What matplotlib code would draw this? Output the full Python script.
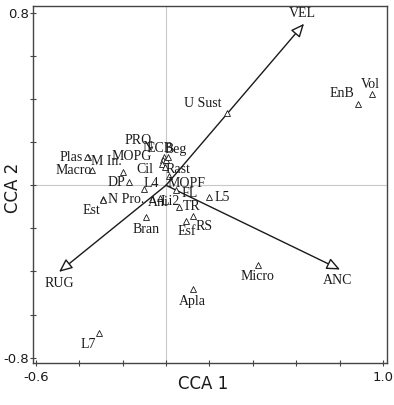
import numpy as np
import matplotlib
matplotlib.use("Agg")
import matplotlib.pyplot as plt


# ==========================================================
# Data (CCA biplot scores)
# ==========================================================

species = ["Vol", "EnB", "U Sust", "PRO", "N", "ECB", "Beg", "MOPG",
           "M In.", "Plas", "Macro", "Cil", "Rast", "MOPF", "DP", "L4",
           "N Pro.", "Est", "Ani", "Li2", "Bran", "FL", "TR", "L5",
           "Esf", "RS", "Micro", "Apla", "L7"]

cca1 = [0.949, 0.883, 0.280, -0.009, -0.014, 0.000, 0.009, -0.018,
        -0.359, -0.364, -0.340, -0.197, -0.005, 0.014, -0.171, -0.101,
        -0.289, -0.291, -0.063, -0.028, -0.094, 0.046, 0.061, 0.198,
        0.092, 0.123, 0.423, 0.123, -0.309]

cca2 = [0.423, 0.376, 0.334, 0.133, 0.119, 0.119, 0.133, 0.100,
        0.133, 0.130, 0.070, 0.062, 0.087, 0.045, 0.014, -0.019,
        -0.065, -0.067, -0.065, -0.061, -0.148, -0.024, -0.099, -0.055,
        -0.165, -0.142, -0.370, -0.483, -0.688]

env_vars = ["VEL", "RUG", "ANC"]
env_cca1 = [0.636, -0.493, 0.802]
env_cca2 = [0.750, -0.402, -0.391]

x_ticks = [-0.6, -0.4, -0.2, 0.0, 0.2, 0.4, 0.6, 0.8, 1.0]
x_ticklabels = ["-0.6", "", "", "", "", "", "", "", "1.0"]
y_ticks = [-0.8, -0.6, -0.4, -0.2, 0.0, 0.2, 0.4, 0.6, 0.8]
y_ticklabels = ["-0.8", "", "", "", "", "", "", "", "0.8"]


# ==========================================================
# Label placement (pixel offsets from the point)
# ==========================================================

LABEL_OFFSET = {
    "Vol": (-2, 10), "EnB": (-16, 11), "U Sust": (-24, 10),
    "PRO": (-26, 16), "N": (-15, 12), "ECB": (-6, 11), "Beg": (8, 7),
    "MOPG": (-30, 7), "M In.": (18, -5), "Plas": (-16, 0),
    "Macro": (-19, 0), "Cil": (22, 2), "Rast": (13, -3),
    "MOPF": (17, -8), "DP": (-13, 0), "L4": (7, 6), "N Pro.": (23, 0),
    "Est": (-11, -11), "Ani": (6, -3), "Li2": (10, -3), "Bran": (0, -12),
    "FL": (14, -3), "TR": (12, 0), "L5": (13, 0), "Esf": (1, -11),
    "RS": (11, -11), "Micro": (0, -12), "Apla": (0, -12), "L7": (-11, -11),
}

ENV_OFFSET = {"VEL": (-2, 10), "RUG": (0, -12), "ANC": (-2, -11)}

SERIF = "Liberation Serif"
SANS = "Liberation Sans Narrow"
INK = "#1a1a1a"


# ==========================================================
# Plot
# ==========================================================

fig = plt.figure(figsize=(3.94, 4.05), dpi=100)
ax = fig.add_axes([0.0838, 0.1037, 0.8982, 0.8813])

ax.set_xlim(-0.613, 1.018)
ax.set_ylim(-0.825, 0.832)

ax.axvline(0, color="#c8c8c8", lw=0.8, zorder=0)
ax.axhline(0, color="#c8c8c8", lw=0.8, zorder=0)

# species
ax.plot(cca1, cca2, linestyle="none", marker="^", markersize=4.2,
        markerfacecolor="white", markeredgecolor=INK, markeredgewidth=0.6,
        zorder=3)

for name, x, y in zip(species, cca1, cca2):
    dx, dy = LABEL_OFFSET[name]
    ax.annotate(name, (x, y), xytext=(dx, dy), textcoords="offset pixels",
                ha="center", va="center", fontsize=10, family=SERIF,
                color=INK, zorder=4)

# environmental arrows
for name, x, y in zip(env_vars, env_cca1, env_cca2):
    ax.annotate("", xy=(x, y), xytext=(0, 0),
                arrowprops=dict(arrowstyle="-|>,head_length=0.8,head_width=0.35",
                                fc="white", ec=INK, lw=1.0,
                                shrinkA=0, shrinkB=0),
                zorder=2)
    dx, dy = ENV_OFFSET[name]
    ax.annotate(name, (x, y), xytext=(dx, dy), textcoords="offset pixels",
                ha="center", va="center", fontsize=10, family=SERIF,
                color=INK)

# axes styling
for sp in ax.spines.values():
    sp.set_color("#444444")
    sp.set_linewidth(1.0)

ax.set_xticks(x_ticks)
ax.set_xticklabels(x_ticklabels)
ax.set_yticks(y_ticks)
ax.set_yticklabels(y_ticklabels)
ax.tick_params(direction="inout", length=4, width=0.8, color="#444444",
               labelsize=9.5, pad=1)
ax.tick_params(axis="x", pad=4)
for lab in ax.get_xticklabels() + ax.get_yticklabels():
    lab.set_family(SANS)
    lab.set_color(INK)

ax.set_xlabel("CCA 1", fontsize=12, family=SANS, color=INK)
ax.set_ylabel("CCA 2", fontsize=12, family=SANS, color=INK)
ax.xaxis.set_label_coords(0.48, -0.035)
ax.yaxis.set_label_coords(-0.03, 0.49)

fig.savefig("out.png", dpi=100)
